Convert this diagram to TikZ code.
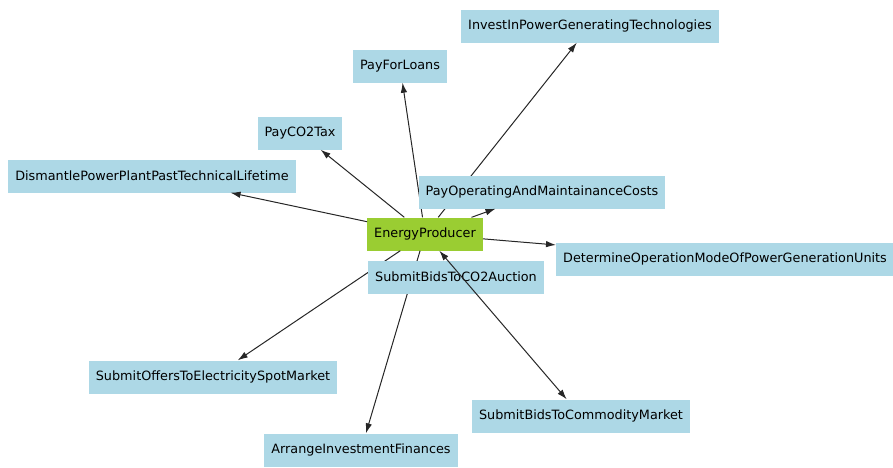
\documentclass[tikz,border=0pt]{standalone}
\usepackage{fontspec}
\setmainfont{DejaVu Sans}
\usetikzlibrary{arrows.meta}
\definecolor{boxblue}{HTML}{ADD8E6}
\definecolor{boxgreen}{HTML}{9ACD32}
\begin{document}
\begin{tikzpicture}[x=1pt,y=-1pt,
  task/.style={fill=boxblue,inner xsep=7pt,minimum height=33pt,font=\fontsize{12.8}{14}\selectfont},
  agent/.style={task,fill=boxgreen},
  link/.style={-{Latex[length=10pt,width=6.5pt]},line width=1pt,black!85}]
\useasboundingbox (0,0) rectangle (893,467);

\node[agent] (producer) at (425,234) {EnergyProducer};

\node[task] (invest) at (590,26) {InvestInPowerGeneratingTechnologies};
\node[task] (loans) at (400,66) {PayForLoans};
\node[task] (co2tax) at (300,133) {PayCO2Tax};
\node[task] (dismantle) at (152,176) {DismantlePowerPlantPastTechnicalLifetime};
\node[task] (offers) at (213,377) {SubmitOffersToElectricitySpotMarket};
\node[task] (arrange) at (361,450) {ArrangeInvestmentFinances};
\node[task] (commodity) at (581,416) {SubmitBidsToCommodityMarket};

\draw[link] (producer) -- (invest);
\draw[link] (producer) -- (loans);
\draw[link] (producer) -- (co2tax);
\draw[link] (producer) -- (dismantle);
\draw[link] (producer) -- (offers);
\draw[link] (producer) -- (arrange);

% these boxes cover the lines above
\node[task] (opcosts) at (542,192) {PayOperatingAndMaintainanceCosts};
\node[task] (auction) at (456,277) {SubmitBidsToCO2Auction};
\node[task,anchor=west] (determine) at (556,259) {DetermineOperationModeOfPowerGenerationUnits};

\draw[link] (producer) -- (opcosts);
\draw[link] (producer) -- (determine);
\draw[link,{Latex[length=10pt,width=6.5pt]}-{Latex[length=10pt,width=6.5pt]}] (producer) -- (commodity);
\end{tikzpicture}
\end{document}
